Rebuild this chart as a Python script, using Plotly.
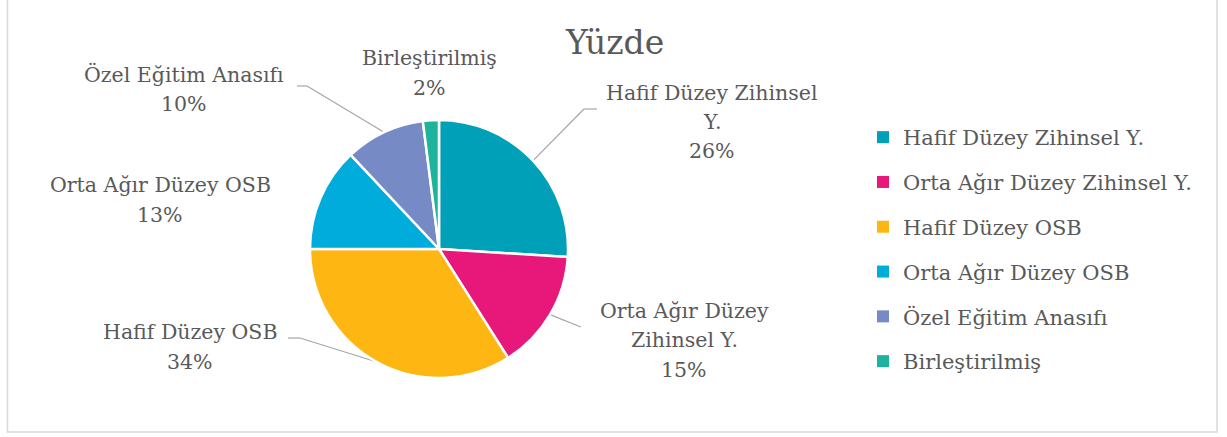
import math
import plotly.graph_objects as go

categories = ["Hafif Düzey Zihinsel Y.", "Orta Ağır Düzey Zihinsel Y.", "Hafif Düzey OSB",
              "Orta Ağır Düzey OSB", "Özel Eğitim Anasıfı", "Birleştirilmiş"]
values = [26, 15, 34, 13, 10, 2]
label_lines = [["Hafif Düzey Zihinsel", "Y."], ["Orta Ağır Düzey", "Zihinsel Y."], ["Hafif Düzey OSB"],
               ["Orta Ağır Düzey OSB"], ["Özel Eğitim Anasıfı"], ["Birleştirilmiş"]]
colors = ["#00A0B8", "#E8177A", "#FDB612", "#00ACDB", "#768BC6", "#1EB39D"]

W, H = 1227, 437
FONT = "DejaVu Serif"
TXT = "#595959"
LINE = "#A6A6A6"
FS = 20.5
LS = 29.5

# pie geometry (pixels)
cx, cy, r = 439, 249, 129

def px(x):
    return x / W

def py(y):
    return 1 - y / H

# label block centres (pixels) and leader line waypoints after the slice edge
label_pos = [(712, 122), (684, 340), (190, 347), (160, 200), (184, 89), (429, 73)]
leader_way = [[(584, 109), (597, 109)], [(581, 327)], [(300, 338), (288, 338)], [], [(307, 86), (297, 86)], []]

fig = go.Figure()
fig.add_trace(go.Pie(
    labels=categories, values=values, sort=False, direction="clockwise", rotation=0,
    marker=dict(colors=colors, line=dict(color="white", width=2.5)),
    textinfo="none", showlegend=False,
    domain=dict(x=[px(cx - r), px(cx + r)], y=[py(cy + r), py(cy - r)]),
))

# legend entries
for i, (c, col) in enumerate(zip(categories, colors)):
    fig.add_trace(go.Scatter(x=[None], y=[None], mode="markers", name=c,
                             marker=dict(symbol="square", size=8, color=col),
                             legendgroup=f"g{i}", showlegend=True))

total = sum(values)
annotations = []
shapes = []
cum = 0
for i, v in enumerate(values):
    mid = (cum + v / 2) / total * 2 * math.pi
    cum += v
    ex = cx + r * math.sin(mid)
    ey = cy - r * math.cos(mid)
    pct = round(v / total * 100)
    lx, ly = label_pos[i]
    lines = label_lines[i] + [f"{pct}%"]
    n = len(lines)
    for k, t in enumerate(lines):
        yy = ly + (k - (n - 1) / 2) * LS
        annotations.append(dict(x=px(lx), y=py(yy), xref="paper", yref="paper",
                                text=t, showarrow=False,
                                align="center", xanchor="center", yanchor="middle",
                                font=dict(family=FONT, size=FS, color=TXT)))
    pts = [(ex, ey)] + leader_way[i]
    for (x0, y0), (x1, y1) in zip(pts[:-1], pts[1:]):
        shapes.append(dict(type="line", xref="paper", yref="paper",
                           x0=px(x0), y0=py(y0), x1=px(x1), y1=py(y1),
                           line=dict(color=LINE, width=1.2), layer="below"))

annotations.append(dict(x=px(614), y=py(42), xref="paper", yref="paper", text="Yüzde",
                        showarrow=False, xanchor="center", yanchor="middle",
                        font=dict(family=FONT, size=33, color=TXT)))

shapes.append(dict(type="rect", xref="paper", yref="paper",
                   x0=px(7.5), x1=px(1217), y0=py(432), y1=py(-5),
                   line=dict(color="#D9D9D9", width=1.5)))

fig.update_layout(
    width=W, height=H, margin=dict(l=0, r=0, t=0, b=0),
    paper_bgcolor="white", plot_bgcolor="white",
    xaxis=dict(visible=False), yaxis=dict(visible=False),
    annotations=annotations, shapes=shapes,
    legend=dict(x=px(863), y=py(117), xanchor="left", yanchor="top",
                font=dict(family=FONT, size=21, color=TXT),
                tracegroupgap=14.5, itemsizing="constant", bgcolor="rgba(0,0,0,0)"),
    font=dict(family=FONT, color=TXT),
)

fig.write_html("out.html", config={"displayModeBar": False},
               post_script="document.body.style.margin='0';document.body.style.overflow='hidden';")
